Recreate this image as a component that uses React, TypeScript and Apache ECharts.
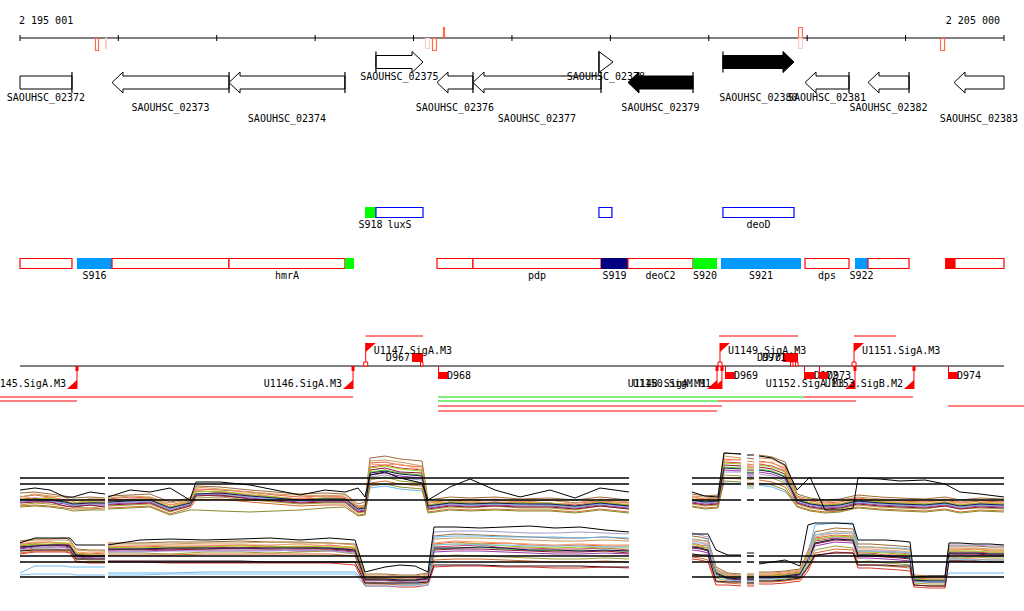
import React, { useEffect, useRef } from 'react';
import * as echarts from 'echarts';

const VIEW_START = 2195001;
const VIEW_END = 2205000;
const FONT = '"DejaVu Sans Mono", "Liberation Mono", monospace';

// ---------------- ruler ----------------
const rulerTicks = [2195001, 2196000, 2197000, 2198000, 2199000, 2200000, 2201000, 2202000, 2203000, 2204000, 2205000];
const rulerStartLabel = '2 195 001';
const rulerEndLabel = '2 205 000';

// ---------------- TSS marks on the ruler ----------------
const tssStarts = [2195763, 2195865, 2199116, 2199188, 2199299, 2202907, 2202907, 2204350];
const tssEnds = [2195804, 2195875, 2199167, 2199238, 2199320, 2202957, 2202957, 2204401];
const tssStrands = [-1, -1, -1, -1, 1, 1, -1, -1];
const tssStrong = [1, 0, 0, 1, 1, 1, 0, 1];

// ---------------- annotated genes ----------------
const geneNames = ['SAOUHSC_02372', 'SAOUHSC_02373', 'SAOUHSC_02374', 'SAOUHSC_02375', 'SAOUHSC_02376', 'SAOUHSC_02377', 'SAOUHSC_02378', 'SAOUHSC_02379', 'SAOUHSC_02380', 'SAOUHSC_02381', 'SAOUHSC_02382', 'SAOUHSC_02383'];
const geneStarts = [2194800, 2195936, 2197125, 2198618, 2199238, 2199604, 2200884, 2201179, 2202144, 2202978, 2203618, 2204492];
const geneEnds = [2195529, 2197125, 2198303, 2199096, 2199604, 2200905, 2201027, 2201840, 2202866, 2203425, 2204035, 2205100];
const geneStrands = [-1, -1, -1, 1, -1, -1, 1, -1, 1, -1, -1, -1];
const geneFilled = [0, 0, 0, 0, 0, 0, 0, 1, 1, 0, 0, 0];
const geneLabelLanes = [1, 2, 3, 0, 2, 3, 0, 2, 1, 1, 2, 3];

// ---------------- features (genes + sRNA / UTR segments) ----------------
const featNames = ['S918', 'luxS', '', 'deoD', '', 'S916', '', 'hmrA', '', '', 'pdp', 'S919', 'deoC2', 'S920', 'S921', 'dps', 'S922', '', '', ''];
const featStarts = [2198507, 2198618, 2200884, 2202144, 2194800, 2195580, 2195936, 2197125, 2198303, 2199238, 2199604, 2200905, 2201179, 2201840, 2202124, 2202978, 2203486, 2203618, 2204401, 2204502];
const featEnds = [2198618, 2199096, 2201016, 2202866, 2195529, 2195936, 2197125, 2198303, 2198395, 2199604, 2200905, 2201179, 2201840, 2202084, 2202937, 2203425, 2203618, 2204035, 2204502, 2205100];
const featStrands = [1, 1, 1, 1, -1, -1, -1, -1, -1, -1, -1, -1, -1, -1, -1, -1, -1, -1, -1, -1];
const featKinds = ['green', 'gene', 'gene', 'gene', 'gene', 'blue', 'gene', 'gene', 'green', 'gene', 'gene', 'navy', 'gene', 'green', 'blue', 'gene', 'blue', 'gene', 'red', 'gene'];

// ---------------- promoters ----------------
const promNames = ['U1145.SigA.M3', 'U1146.SigA.M3', 'U1147.SigA.M3', 'U1148.SigA.M1', 'U1150.SigM.M1', 'U1149.SigA.M3', 'U1151.SigA.M3', 'U1152.SigA.M3', 'U1153.SigB.M2'];
const promPos = [2195580, 2198385, 2198514, 2202084, 2202134, 2202114, 2203476, 2203486, 2204085];
const promStrands = [-1, -1, 1, -1, -1, 1, 1, -1, -1];

// ---------------- terminators ----------------
const termNames = ['D967', 'D968', 'D969', 'D970', 'D971', 'D972', 'D973', 'D974'];
const termStarts = [2198984, 2199249, 2202165, 2202754, 2202805, 2202967, 2203120, 2204431];
const termEnds = [2199096, 2199350, 2202266, 2202856, 2202907, 2203079, 2203211, 2204532];
const termStrands = [1, -1, -1, 1, 1, -1, -1, -1];

// ---------------- transcripts ----------------
const trStarts = [2198514, 2202104, 2203476, 2194798, 2199249, 2202967, 2194798, 2199249, 2202094, 2199249, 2204431, 2199249];
const trEnds = [2199096, 2202907, 2203902, 2198385, 2202967, 2204075, 2195580, 2202094, 2203496, 2202134, 2205406, 2202084];
const trStrands = [1, 1, 1, -1, -1, -1, -1, -1, -1, -1, -1, -1];
const trLanes = [0, 0, 0, 0, 0, 0, 1, 1, 1, 2, 2, 3];
const trKinds = ['red', 'red', 'red', 'red', 'green', 'red', 'red', 'green', 'red', 'red', 'red', 'red'];

// ---------------- expression profiles ----------------
const exprBlockStarts = [2195001, 2195895, 2201830, 2202388, 2202510];
const exprBlockEnds = [2195865, 2201189, 2202328, 2202460, 2205000];

const topPositions = [
  2195001, 2195153, 2195306, 2195458, 2195540, 2195712, 2195865, 2195875,
  2195895, 2196119, 2196322, 2196525, 2196728, 2196789, 2197033, 2197338, 2197592, 2197846, 2198100, 2198304, 2198436, 2198507, 2198558, 2198710, 2198862, 2199086, 2199147, 2199370, 2199574, 2199828, 2200082, 2200387, 2200641, 2200895, 2201189, 2201504,
  2201830, 2201962, 2202094, 2202155, 2202328, 2202358,
  2202388, 2202460, 2202480,
  2202510, 2202643, 2202775, 2202897, 2203029, 2203181, 2203334, 2203466, 2203516, 2203740, 2203943, 2204197, 2204401, 2204553, 2204756, 2205000,
];
const topRefLevels = [52, 46, 30];
const topColors = ['#e8643c', '#5fcf1f', '#a0a030', '#9c6b3a', '#d23c5a', '#9a3aa0', '#6ab8f0', '#f59a6a', '#c99a5e', '#a898d0', '#8c1438', '#9ccc14', '#d2692d', '#14145a', '#8a8a2a'];
const topSeries = [
  [33, 35, 33, 30, 29, 31, 30, null, 31, 33, 32, 25, 29, 41, 40, 38, 35, 33, 34, 33, 23, 25, 67, 68, 65, 63, 27, 30, 29, 31, 28, 30, 27, 29, 27, null, 33, 31, 32, 71, 70, null, 66, 65, null, 69, 67, 62, 33, 29, 27, 28, 31, 32, 29, 29, 28, 30, 27, 29, 28],
  [30, 30, 31, 27, 25, 28, 26, null, 27, 30, 29, 21, 26, 36, 35, 33, 31, 31, 30, 30, 20, 21, 58, 60, 57, 55, 23, 28, 25, 26, 27, 25, 23, 26, 25, null, 29, 29, 28, 63, 62, null, 58, 58, null, 61, 59, 54, 29, 27, 23, 24, 27, 28, 28, 25, 24, 26, 23, 25, 24],
  [25, 27, 26, 24, 23, 22, 24, null, 24, 25, 26, 18, 24, 32, 33, 30, 28, 26, 27, 27, 17, 18, 50, 53, 49, 47, 20, 23, 22, 24, 22, 22, 20, 24, 21, null, 26, 24, 25, 55, 54, null, 50, 51, null, 53, 52, 47, 26, 22, 20, 21, 24, 25, 23, 22, 21, 24, 21, 22, 21],
  [37, 38, 36, 34, 32, 33, 32, null, 34, 35, 36, 28, 32, 44, 43, 40, 38, 36, 37, 36, 26, 28, 72, 74, 71, 69, 30, 33, 32, 33, 31, 32, 30, 33, 30, null, 36, 34, 35, 77, 76, null, 72, 71, null, 75, 73, 68, 36, 32, 30, 31, 34, 35, 33, 32, 31, 33, 30, 32, 31],
  [31, 32, 31, 29, 27, 28, 28, null, 29, 31, 31, 23, 28, 39, 38, 35, 33, 31, 32, 32, 22, 23, 63, 65, 62, 60, 25, 28, 27, 28, 27, 27, 25, 28, 25, null, 31, 29, 30, 68, 67, null, 63, 63, null, 66, 64, 59, 31, 27, 25, 26, 29, 30, 28, 27, 26, 28, 25, 27, 26],
  [28, 29, 28, 26, 24, 25, 25, null, 26, 27, 28, 20, 25, 35, 34, 32, 30, 28, 29, 29, 19, 20, 55, 57, 54, 52, 22, 25, 24, 25, 24, 24, 22, 25, 22, null, 28, 26, 27, 60, 59, null, 55, 55, null, 58, 56, 51, 28, 24, 22, 23, 26, 27, 25, 24, 23, 25, 22, 24, 23],
  [29, 30, 29, 27, 25, 26, 26, null, 27, 28, 29, 21, 26, 36, 36, 33, 31, 29, 30, 30, 20, 21, 42, 44, 41, 39, 23, 26, 25, 26, 25, 25, 23, 26, 23, null, 29, 27, 28, 47, 46, null, 42, 42, null, 45, 43, 38, 29, 25, 23, 24, 27, 28, 26, 25, 24, 26, 23, 25, 24],
  [34, 31, 33, 29, 30, 27, 30, null, 31, 29, 33, 25, 28, 40, 37, 37, 33, 31, 35, 32, 24, 23, 66, 65, 66, 60, 27, 28, 29, 27, 29, 26, 27, 28, 27, null, 33, 30, 32, 69, 71, null, 64, 66, null, 67, 68, 60, 33, 27, 27, 26, 31, 30, 30, 27, 28, 28, 27, 27, 28],
  [33, 36, 34, 33, 29, 31, 31, null, 32, 34, 33, 27, 30, 43, 41, 38, 36, 35, 34, 35, 24, 25, 69, 70, 68, 64, 28, 30, 31, 30, 29, 30, 27, 31, 28, null, 34, 33, 32, 74, 72, null, 69, 68, null, 72, 71, 64, 34, 31, 28, 30, 32, 33, 31, 30, 29, 31, 28, 30, 29],
  [28, 30, 29, 28, 24, 27, 25, null, 28, 27, 29, 20, 27, 35, 36, 33, 30, 30, 29, 31, 20, 21, 53, 55, 52, 50, 24, 26, 24, 27, 24, 26, 22, 27, 23, null, 30, 27, 28, 58, 58, null, 53, 54, null, 56, 54, 49, 30, 25, 24, 23, 27, 29, 26, 26, 23, 27, 22, 26, 24],
  [27, 28, 28, 24, 23, 25, 23, null, 25, 26, 27, 19, 24, 34, 35, 31, 29, 27, 28, 28, 18, 19, 60, 62, 58, 57, 21, 24, 23, 24, 23, 23, 21, 24, 21, null, 27, 25, 26, 65, 64, null, 60, 60, null, 63, 61, 56, 27, 23, 21, 22, 25, 26, 24, 23, 22, 24, 21, 23, 22],
  [31, 31, 32, 28, 27, 29, 27, null, 29, 30, 31, 23, 28, 38, 39, 35, 33, 30, 32, 31, 22, 22, 62, 64, 61, 59, 25, 28, 27, 27, 27, 27, 24, 28, 25, null, 31, 29, 30, 67, 66, null, 62, 62, null, 65, 63, 58, 31, 27, 25, 26, 29, 30, 28, 27, 26, 28, 25, 27, 26],
  [24, 25, 24, 22, 21, 21, 22, null, 22, 23, 24, 16, 22, 30, 31, 28, 26, 24, 25, 25, 15, 16, 47, 49, 46, 44, 18, 21, 20, 21, 20, 20, 18, 21, 18, null, 24, 22, 23, 52, 51, null, 47, 47, null, 50, 48, 43, 24, 20, 18, 19, 22, 23, 21, 20, 19, 21, 18, 20, 19],
  [30, 31, 30, 28, 26, 27, 27, null, 28, 29, 30, 22, 27, 36, 37, 34, 32, 30, 31, 31, 21, 22, 57, 59, 56, 54, 24, 27, 26, 27, 26, 26, 24, 27, 24, null, 30, 28, 29, 62, 61, null, 57, 57, null, 60, 58, 53, 30, 26, 24, 25, 28, 29, 27, 26, 25, 27, 24, 26, 25],
  [23, 24, 23, 21, 19, 20, 20, null, 21, 22, 23, 15, 20, 20, 19, 18, 19, 20, 22, 23, 14, 15, 44, 46, 43, 41, 17, 20, 19, 20, 19, 19, 17, 20, 17, null, 23, 21, 22, 49, 48, null, 44, 44, null, 47, 45, 40, 23, 19, 17, 18, 21, 22, 20, 19, 18, 20, 17, 19, 18],
];
const topBlack = [40, 42, 40, 33, 33, 38, 36, null, 33, 40, 38, 42, 30, 48, 48, 45, 40, 35, 40, 38, 42, 33, 55, 58, 52, 47, 30, 43, 51, 40, 33, 40, 32, 42, 38, null, 38, 34, 33, 77, 76, null, 75, 75, null, 74, 72, 65, 40, 53, 20, 20, 22, 52, 51, 49, 50, 46, 38, 36, 33];

const bottomPositions = [
  2195001, 2195153, 2195306, 2195458, 2195509, 2195570, 2195712, 2195865, 2195875,
  2195895, 2196220, 2196525, 2196881, 2197237, 2197541, 2197846, 2198151, 2198405, 2198507, 2198710, 2198862, 2199015, 2199147, 2199208, 2199421, 2199675, 2199929, 2200183, 2200437, 2200691, 2200946, 2201189, 2201504,
  2201830, 2201911, 2201992, 2202073, 2202195, 2202328, 2202358,
  2202388, 2202460, 2202480,
  2202510, 2202643, 2202775, 2202927, 2203008, 2203079, 2203283, 2203466, 2203516, 2203638, 2203791, 2203943, 2204045, 2204085, 2204248, 2204401, 2204441, 2204553, 2204705, 2204858, 2205000,
];
const bottomRefLevels = [39, 33, 18];
const bottomColors = ['#e8643c', '#5fcf1f', '#a0a030', '#9c6b3a', '#d23c5a', '#9a3aa0', '#6ab8f0', '#f59a6a', '#c99a5e', '#a898d0', '#8c1438', '#9ccc14', '#d2692d', '#14145a', '#d83a2a', '#7cc0f5'];
const bottomSeries = [
  [51, 52, 53, 51, 50, 42, 41, 42, null, 48, 49, 48, 49, 50, 49, 48, 50, 47, 18, 17, 17, 18, 19, 51, 53, 51, 52, 50, 49, 50, 49, 49, null, 52, 50, 49, 25, 19, 18, null, 18, 17, null, 20, 20, 21, 23, 39, 57, 60, 59, 44, 44, 43, 42, 41, 17, 16, 16, 45, 45, 46, 44, 44],
  [48, 50, 49, 50, 49, 40, 39, 38, null, 46, 45, 47, 46, 47, 48, 47, 46, 45, 16, 15, 15, 14, 17, 46, 47, 48, 46, 45, 44, 45, 44, 44, null, 48, 47, 45, 22, 17, 16, null, 16, 16, null, 18, 17, 19, 21, 35, 52, 56, 55, 40, 41, 39, 38, 37, 15, 14, 14, 42, 41, 42, 41, 41],
  [44, 46, 46, 45, 45, 36, 35, 35, null, 42, 42, 41, 43, 43, 42, 43, 44, 41, 13, 12, 12, 13, 14, 38, 40, 39, 38, 37, 36, 36, 37, 36, null, 41, 40, 39, 17, 14, 13, null, 13, 13, null, 15, 15, 16, 18, 30, 45, 49, 47, 33, 34, 32, 31, 30, 12, 11, 11, 38, 37, 38, 37, 37],
  [54, 56, 56, 57, 55, 46, 45, 45, null, 52, 52, 53, 53, 54, 53, 53, 52, 51, 21, 21, 20, 20, 22, 59, 61, 60, 59, 58, 57, 57, 58, 56, null, 59, 58, 56, 28, 22, 21, null, 21, 21, null, 23, 23, 24, 26, 44, 63, 67, 66, 51, 51, 50, 49, 48, 20, 19, 19, 49, 49, 49, 48, 48],
  [49, 51, 50, 51, 50, 41, 40, 40, null, 47, 47, 46, 48, 47, 48, 48, 47, 46, 17, 16, 16, 16, 18, 48, 49, 50, 47, 47, 46, 46, 47, 45, null, 49, 48, 47, 23, 18, 17, null, 17, 17, null, 19, 19, 20, 22, 36, 54, 57, 57, 42, 42, 40, 40, 38, 16, 15, 15, 43, 43, 43, 42, 42],
  [46, 48, 48, 48, 47, 38, 37, 37, null, 44, 44, 45, 45, 45, 45, 44, 45, 43, 15, 15, 14, 14, 16, 43, 44, 44, 43, 42, 41, 41, 42, 41, null, 45, 44, 42, 20, 16, 15, null, 15, 15, null, 17, 17, 18, 20, 33, 49, 53, 52, 37, 37, 36, 35, 34, 14, 13, 13, 40, 40, 40, 39, 39],
  [22, 29, 29, 29, 28, 28, 28, 28, null, 22, 22, 22, 23, 23, 23, 23, 23, 23, 12, 11, 11, 11, 13, 58, 59, 59, 58, 58, 58, 57, 58, 57, null, 55, 55, 54, 24, 20, 19, null, 19, 19, null, 18, 18, 19, 22, 40, 70, 72, 72, 48, 48, 47, 47, 46, 16, 15, 15, 22, 22, 22, 22, 22],
  [51, 53, 53, 52, 52, 43, 42, 43, null, 49, 49, 50, 50, 50, 50, 51, 49, 48, 19, 18, 18, 17, 20, 52, 54, 53, 52, 51, 50, 51, 50, 50, null, 54, 53, 51, 25, 20, 19, null, 19, 19, null, 21, 21, 22, 24, 40, 58, 62, 61, 46, 46, 45, 44, 43, 18, 17, 17, 46, 46, 46, 45, 45],
  [53, 55, 55, 55, 54, 45, 44, 44, null, 51, 51, 51, 52, 52, 53, 52, 52, 50, 20, 20, 19, 19, 21, 56, 57, 57, 56, 55, 54, 54, 55, 54, null, 56, 55, 53, 26, 21, 20, null, 20, 20, null, 22, 22, 23, 25, 42, 60, 64, 63, 48, 48, 47, 46, 45, 19, 18, 18, 47, 47, 47, 46, 46],
  [45, 47, 47, 47, 46, 37, 36, 36, null, 43, 43, 44, 44, 44, 44, 45, 44, 42, 14, 14, 13, 13, 15, 63, 64, 64, 63, 62, 62, 63, 62, 61, null, 62, 60, 58, 20, 16, 15, null, 15, 15, null, 17, 17, 18, 20, 36, 56, 58, 58, 44, 44, 44, 43, 42, 14, 13, 13, 50, 50, 50, 49, 49],
  [47, 49, 50, 49, 48, 39, 38, 39, null, 45, 46, 45, 46, 47, 46, 46, 46, 44, 15, 15, 14, 15, 16, 45, 46, 46, 45, 44, 43, 43, 44, 42, null, 47, 46, 44, 21, 16, 15, null, 15, 15, null, 17, 17, 18, 20, 34, 51, 55, 54, 39, 39, 38, 37, 36, 14, 13, 13, 41, 41, 41, 40, 40],
  [50, 51, 51, 52, 51, 42, 40, 40, null, 48, 47, 48, 48, 49, 48, 49, 48, 47, 17, 16, 16, 15, 18, 50, 51, 51, 49, 48, 47, 48, 47, 47, null, 51, 49, 47, 23, 18, 17, null, 17, 17, null, 19, 19, 20, 22, 37, 55, 59, 58, 43, 43, 42, 41, 40, 16, 15, 15, 44, 44, 44, 43, 43],
  [42, 44, 44, 44, 43, 34, 33, 33, null, 40, 40, 40, 41, 41, 41, 41, 41, 39, 11, 11, 10, 10, 12, 35, 36, 36, 35, 34, 33, 33, 34, 33, null, 38, 37, 35, 13, 12, 11, null, 11, 11, null, 13, 13, 14, 16, 27, 42, 46, 45, 30, 30, 29, 28, 27, 10, 9, 9, 36, 36, 36, 35, 35],
  [48, 49, 50, 50, 49, 40, 39, 39, null, 46, 46, 47, 47, 47, 47, 47, 47, 45, 16, 16, 15, 15, 17, 47, 47, 48, 47, 45, 45, 44, 45, 44, null, 48, 47, 45, 22, 17, 16, null, 16, 16, null, 18, 18, 19, 21, 35, 52, 56, 55, 40, 40, 39, 38, 37, 15, 14, 14, 42, 42, 42, 41, 41],
  [41, 43, 43, 43, 42, 33, 32, 32, null, 33, 33, 32, 32, 32, 32, 32, 32, 30, 9, 9, 8, 8, 10, 28, 29, 29, 28, 28, 27, 27, 28, 27, null, 36, 35, 33, 10, 10, 9, null, 9, 9, null, 11, 11, 12, 14, 24, 39, 43, 42, 27, 27, 26, 25, 24, 8, 7, 7, 34, 34, 33, 33, 33],
  [20, 21, 21, 21, 21, 20, 20, 20, null, 20, 20, 21, 21, 21, 21, 21, 21, 21, 9, 9, 9, 10, 10, 50, 51, 50, 50, 49, 49, 49, 48, 48, null, 52, 52, 50, 20, 15, 14, null, 14, 14, null, 16, 16, 17, 19, 33, 60, 62, 62, 44, 44, 43, 43, 42, 13, 13, 13, 36, 36, 35, 35, 35],
];
const bottomBlack = [52, 57, 57, 57, 57, 50, 50, 50, null, 50, 55, 56, 55, 56, 57, 55, 57, 55, 23, 28, 30, 29, 23, 68, 68, 67, 68, 69, 67, 68, 65, 63, null, 61, 61, 61, 45, 40, 40, null, 42, 42, null, 31, 33, 35, 29, 70, 72, 72, 71, 55, 55, 55, 54, 53, 18, 19, 19, 52, 52, 51, 51, 50];
const bottomDark = [44, 45, 45, 45, 45, 36, 36, 36, null, 34, 34, 34, 34, 34, 33, 33, 33, 33, 12, 12, 12, 12, 13, 30, 30, 30, 29, 29, 29, 29, 28, 28, null, 41, 40, 40, 14, 13, 13, null, 12, 12, null, 14, 14, 15, 17, 28, 40, 42, 42, 30, 30, 30, 29, 29, 10, 9, 9, 34, 34, 34, 33, 33];

// ---------------- layout & style ----------------
const RULER_Y = 38;
const GENE_FWD_Y = 62;
const GENE_REV_Y = 82.5;
const GENE_LABEL_Y = [76, 97, 107, 118];
const FEAT_TOP = { fwd: 207.5, rev: 258.5 };
const PROM_LINE_Y = 366;
const TR_ABOVE_Y = 336;
const TR_BELOW_Y = [397, 401, 406, 411];
const FEAT_FILL: Record<string, string> = { green: '#00ff00', blue: '#0099ff', navy: '#000080', red: '#ff0000' };
const TR_COLOR: Record<string, string> = { red: '#ff0000', green: '#00e000' };
const RED = '#ff0000';

const txt = (text: string, x: number, y: number, align: string) => ({
  type: 'text',
  style: { text, x, y, fill: '#000', fontSize: 10, fontFamily: FONT, align, verticalAlign: 'middle' },
});

const clampX = (api: any, v: number) => api.coord([Math.min(Math.max(v, VIEW_START), VIEW_END), 0])[0];

function buildOption() {
  const xAxes = [0, 1, 2].map((g) => ({ type: 'value', gridIndex: g, min: VIEW_START, max: VIEW_END, show: false }));
  const yAxes = [
    { type: 'value', gridIndex: 0, min: 0, max: 611, inverse: true, show: false },
    { type: 'value', gridIndex: 1, min: 0, max: 90, show: false },
    { type: 'value', gridIndex: 2, min: 0, max: 80, show: false },
  ];

  const series: any[] = [];

  // ruler
  series.push({
    type: 'custom', xAxisIndex: 0, yAxisIndex: 0, silent: true, z: 2,
    data: rulerTicks.map((t) => [t, RULER_Y]),
    renderItem: (params: any, api: any) => {
      const x = api.coord([api.value(0), RULER_Y])[0];
      const children: any[] = [{ type: 'line', shape: { x1: x, y1: RULER_Y - 3, x2: x, y2: RULER_Y + 3 }, style: { stroke: '#000', lineWidth: 1 } }];
      if (params.dataIndex === 0) {
        const xs = api.coord([VIEW_START, 0])[0];
        const xe = api.coord([VIEW_END, 0])[0];
        children.push({ type: 'line', shape: { x1: xs, y1: RULER_Y, x2: xe, y2: RULER_Y }, style: { stroke: '#000', lineWidth: 1 } });
        children.push(txt(rulerStartLabel, xs - 1, 20, 'left'));
        children.push(txt(rulerEndLabel, xe - 4, 20, 'right'));
      }
      return { type: 'group', children };
    },
  });

  // TSS marks
  series.push({
    type: 'custom', xAxisIndex: 0, yAxisIndex: 0, silent: true, z: 3,
    data: tssStarts.map((s, i) => [s, tssEnds[i]]),
    renderItem: (params: any, api: any) => {
      const i = params.dataIndex;
      const x0 = api.coord([tssStarts[i], 0])[0];
      const x1 = api.coord([tssEnds[i], 0])[0];
      const strong = tssStrong[i] === 1;
      const h = strong ? 12 : 10;
      const y = tssStrands[i] > 0 ? RULER_Y - 11 : RULER_Y;
      return {
        type: 'rect',
        shape: { x: x0 + 0.5, y: y + 0.5, width: Math.max(x1 - x0 - 1, 1), height: tssStrands[i] > 0 ? 10.5 : h },
        style: { fill: '#fff', stroke: strong ? '#ff6a4a' : '#f7cfc6', lineWidth: 1.2 },
      };
    },
  });

  // genes
  series.push({
    type: 'custom', xAxisIndex: 0, yAxisIndex: 0, silent: true, z: 3,
    data: geneStarts.map((s, i) => [s, geneEnds[i]]),
    renderItem: (params: any, api: any) => {
      const i = params.dataIndex;
      const fwd = geneStrands[i] > 0;
      const x0 = clampX(api, geneStarts[i]);
      const x1 = clampX(api, geneEnds[i]);
      const cy = fwd ? GENE_FWD_Y : GENE_REV_Y;
      const hasHead = fwd ? geneEnds[i] <= VIEW_END : geneStarts[i] >= VIEW_START;
      const hasBar = fwd ? geneStarts[i] >= VIEW_START : geneEnds[i] <= VIEW_END;
      const len = x1 - x0;
      const h = hasHead ? (len < 20 ? len : 11) : 0;
      const bh = 6.5;
      const hh = 10.5;
      let pts: number[][];
      if (fwd) {
        const b = x1 - h;
        pts = hasHead
          ? [[x0, cy - bh], [b, cy - bh], [b, cy - hh], [x1, cy], [b, cy + hh], [b, cy + bh], [x0, cy + bh]]
          : [[x0, cy - bh], [x1, cy - bh], [x1, cy + bh], [x0, cy + bh]];
      } else {
        const b = x0 + h;
        pts = hasHead
          ? [[x1, cy - bh], [b, cy - bh], [b, cy - hh], [x0, cy], [b, cy + hh], [b, cy + bh], [x1, cy + bh]]
          : [[x1, cy - bh], [x0, cy - bh], [x0, cy + bh], [x1, cy + bh]];
      }
      const filled = geneFilled[i] === 1;
      const children: any[] = [
        { type: 'polygon', shape: { points: pts }, style: { fill: filled ? '#000' : '#fff', stroke: '#000', lineWidth: 1 } },
      ];
      if (hasBar) {
        const bx = fwd ? x0 : x1;
        children.push({ type: 'line', shape: { x1: bx, y1: cy - hh, x2: bx, y2: cy + hh }, style: { stroke: '#000', lineWidth: 1.2 } });
      }
      children.push(txt(geneNames[i], (x0 + x1) / 2, GENE_LABEL_Y[geneLabelLanes[i]], 'center'));
      return { type: 'group', children };
    },
  });

  // features
  series.push({
    type: 'custom', xAxisIndex: 0, yAxisIndex: 0, silent: true, z: 3,
    data: featStarts.map((s, i) => [s, featEnds[i]]),
    renderItem: (params: any, api: any) => {
      const i = params.dataIndex;
      const fwd = featStrands[i] > 0;
      const x0 = clampX(api, featStarts[i]);
      const x1 = clampX(api, featEnds[i]);
      const top = fwd ? FEAT_TOP.fwd : FEAT_TOP.rev;
      const kind = featKinds[i];
      const children: any[] = [];
      if (kind === 'gene') {
        children.push({ type: 'rect', shape: { x: x0, y: top, width: x1 - x0, height: 10 }, style: { fill: '#fff', stroke: fwd ? '#0000ff' : RED, lineWidth: 1.2 } });
      } else {
        children.push({ type: 'rect', shape: { x: x0, y: top - 0.5, width: x1 - x0, height: 11 }, style: { fill: FEAT_FILL[kind] } });
      }
      if (featNames[i]) children.push(txt(featNames[i], (x0 + x1) / 2, top + 16.5, 'center'));
      return { type: 'group', children };
    },
  });

  // promoter axis line + transcripts
  series.push({
    type: 'custom', xAxisIndex: 0, yAxisIndex: 0, silent: true, z: 3,
    data: trStarts.map((s, i) => [s, trEnds[i]]),
    renderItem: (params: any, api: any) => {
      const i = params.dataIndex;
      const x0 = api.coord([trStarts[i], 0])[0];
      const x1 = api.coord([trEnds[i], 0])[0];
      const y = trStrands[i] > 0 ? TR_ABOVE_Y - trLanes[i] * 4 : TR_BELOW_Y[trLanes[i]];
      const children: any[] = [{ type: 'line', shape: { x1: x0, y1: y, x2: x1, y2: y }, style: { stroke: TR_COLOR[trKinds[i]], lineWidth: 1 } }];
      if (i === 0) {
        const xs = api.coord([VIEW_START, 0])[0];
        const xe = api.coord([VIEW_END, 0])[0];
        children.push({ type: 'line', shape: { x1: xs, y1: PROM_LINE_Y, x2: xe, y2: PROM_LINE_Y }, style: { stroke: '#000', lineWidth: 1 } });
      }
      return { type: 'group', children };
    },
  });

  // terminators
  series.push({
    type: 'custom', xAxisIndex: 0, yAxisIndex: 0, silent: true, z: 4,
    data: termStarts.map((s, i) => [s, termEnds[i]]),
    renderItem: (params: any, api: any) => {
      const i = params.dataIndex;
      const x0 = api.coord([termStarts[i], 0])[0];
      const x1 = api.coord([termEnds[i], 0])[0];
      const children: any[] = [];
      if (termStrands[i] > 0) {
        children.push({ type: 'rect', shape: { x: x0, y: PROM_LINE_Y - 13, width: x1 - x0, height: 9 }, style: { fill: RED } });
        children.push({ type: 'rect', shape: { x: x1 - 2.5, y: PROM_LINE_Y - 4, width: 2.5, height: 4 }, style: { fill: '#fff', stroke: RED, lineWidth: 1 } });
        children.push(txt(termNames[i], x0 - 2, PROM_LINE_Y - 9, 'right'));
      } else {
        children.push({ type: 'line', shape: { x1: x0 + 0.5, y1: PROM_LINE_Y, x2: x0 + 0.5, y2: PROM_LINE_Y + 6 }, style: { stroke: RED, lineWidth: 1 } });
        children.push({ type: 'rect', shape: { x: x0, y: PROM_LINE_Y + 6, width: x1 - x0, height: 7 }, style: { fill: RED } });
        children.push(txt(termNames[i], x1 - 1, PROM_LINE_Y + 9.5, 'left'));
      }
      return { type: 'group', children };
    },
  });

  // promoters
  series.push({
    type: 'custom', xAxisIndex: 0, yAxisIndex: 0, silent: true, z: 5,
    data: promPos.map((p) => [p, 0]),
    renderItem: (params: any, api: any) => {
      const i = params.dataIndex;
      const x = api.coord([promPos[i], 0])[0];
      const children: any[] = [];
      if (promStrands[i] > 0) {
        const t = PROM_LINE_Y - 23;
        children.push({ type: 'line', shape: { x1: x, y1: t, x2: x, y2: PROM_LINE_Y }, style: { stroke: RED, lineWidth: 1 } });
        children.push({ type: 'polygon', shape: { points: [[x, t], [x + 10, t], [x, t + 9]] }, style: { fill: RED } });
        children.push({ type: 'rect', shape: { x: x - 2, y: PROM_LINE_Y - 4, width: 4, height: 4 }, style: { fill: '#fff', stroke: RED, lineWidth: 1 } });
        children.push(txt(promNames[i], x + 8, t + 7.5, 'left'));
      } else {
        const b = PROM_LINE_Y + 23;
        children.push({ type: 'line', shape: { x1: x, y1: PROM_LINE_Y, x2: x, y2: b }, style: { stroke: RED, lineWidth: 1 } });
        children.push({ type: 'polygon', shape: { points: [[x - 10, b], [x, b], [x, b - 9]] }, style: { fill: RED } });
        children.push({ type: 'rect', shape: { x: x - 1.5, y: PROM_LINE_Y, width: 3, height: 5 }, style: { fill: RED } });
        children.push(txt(promNames[i], x - 11, b - 6, 'right'));
      }
      return { type: 'group', children };
    },
  });

  // expression panels
  const toPairs = (xs: number[], ys: (number | null)[]) => xs.map((x, i) => [x, ys[i] == null ? '-' : ys[i]]);
  const refPairs = (lv: number) => {
    const out: any[] = [];
    exprBlockStarts.forEach((s, i) => {
      out.push([s, lv], [exprBlockEnds[i], lv], [exprBlockEnds[i] + 1, '-']);
    });
    return out;
  };
  const lineBase = { type: 'line', showSymbol: false, symbol: 'none', silent: true, connectNulls: false, animation: false };

  topSeries.forEach((vals, k) => {
    series.push({ ...lineBase, xAxisIndex: 1, yAxisIndex: 1, z: 2, data: toPairs(topPositions, vals), lineStyle: { color: topColors[k], width: 1 } });
  });
  series.push({ ...lineBase, xAxisIndex: 1, yAxisIndex: 1, z: 3, data: toPairs(topPositions, topBlack), lineStyle: { color: '#000', width: 1 } });
  topRefLevels.forEach((lv) => {
    series.push({ ...lineBase, xAxisIndex: 1, yAxisIndex: 1, z: 4, data: refPairs(lv), lineStyle: { color: '#000', width: 1.5 } });
  });

  bottomSeries.forEach((vals, k) => {
    series.push({ ...lineBase, xAxisIndex: 2, yAxisIndex: 2, z: 2, data: toPairs(bottomPositions, vals), lineStyle: { color: bottomColors[k], width: 1 } });
  });
  series.push({ ...lineBase, xAxisIndex: 2, yAxisIndex: 2, z: 3, data: toPairs(bottomPositions, bottomDark), lineStyle: { color: '#3a0a1a', width: 1 } });
  series.push({ ...lineBase, xAxisIndex: 2, yAxisIndex: 2, z: 3, data: toPairs(bottomPositions, bottomBlack), lineStyle: { color: '#000', width: 1 } });
  bottomRefLevels.forEach((lv) => {
    series.push({ ...lineBase, xAxisIndex: 2, yAxisIndex: 2, z: 4, data: refPairs(lv), lineStyle: { color: '#000', width: 1.5 } });
  });

  return {
    animation: false,
    backgroundColor: '#ffffff',
    grid: [
      { left: 20, right: 20, top: 0, bottom: 0 },
      { left: 20, right: 20, top: 440, height: 90 },
      { left: 20, right: 20, top: 515, height: 80 },
    ],
    xAxis: xAxes,
    yAxis: yAxes,
    series,
  };
}

export default function App() {
  const ref = useRef<HTMLDivElement>(null);
  useEffect(() => {
    document.body.style.margin = '0';
    if (!ref.current) return;
    const chart = echarts.init(ref.current, null, { renderer: 'svg' });
    chart.setOption(buildOption() as any);
    return () => {
      chart.dispose();
    };
  }, []);
  return (
    <div
      ref={ref}
      style={{ position: 'fixed', left: 0, top: 0, width: 1024, height: 611, background: '#fff' }}
    />
  );
}
